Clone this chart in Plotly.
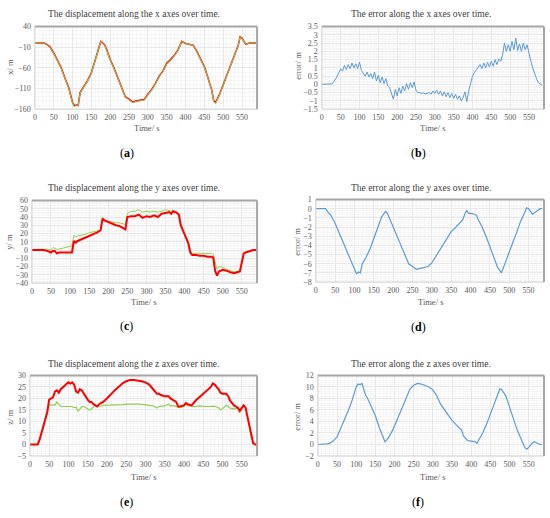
import plotly.graph_objects as go

# ---- data ----
# (a) displacement along x
t_a = [0, 10, 20, 25, 30, 40, 50, 60, 70, 80, 90, 100, 105, 110, 115, 120, 130, 140, 150, 160,
       170, 175, 180, 185, 190, 200, 210, 220, 230, 240, 250, 260, 270, 280, 290, 300, 310, 320,
       330, 340, 350, 360, 370, 380, 390, 400, 410, 420, 430, 440, 450, 460, 470, 475, 480, 490,
       500, 510, 520, 530, 540, 545, 550, 560, 570, 580, 590]
x_green = [0, 0, 0, 0, -2, -10, -25, -45, -61, -86, -110, -146, -154, -151, -152, -121, -108, -92,
           -73, -42, -17, 4, 0, -5, -15, -41, -61, -86, -111, -131, -137, -144, -141, -140, -138,
           -125, -114, -99, -81, -69, -50, -41, -31, -18, 4, -1, -3, -5, -21, -41, -58, -86, -116,
           -141, -146, -126, -101, -76, -51, -31, -6, 15, 12, -3, 0, 1, 0]
x_red = [0, 0, 0, 0, -2, -9, -24, -44, -60, -85, -108, -144, -152, -150, -151, -120, -107, -91,
         -72, -41, -16, 4, 0, -4, -14, -40, -60, -85, -110, -130, -136, -143, -140, -139, -137,
         -124, -113, -98, -80, -68, -49, -40, -30, -17, 4, -1, -3, -5, -20, -40, -57, -85, -115,
         -140, -144, -125, -100, -75, -50, -30, -5, 15, 12, -3, 0, 1, 0]

# (b) error along x
t_b = list(range(0, 590, 5))
err_x = [0, 0, 0, 0, 0.02, 0.03, 0.1, 0.25, 0.45, 0.7, 0.95, 0.8, 1.15, 0.9, 1.2, 0.95, 1.3, 1.0,
         1.25, 0.95, 1.35, 0.85, 0.7, 0.5, 0.75, 0.45, 0.65, 0.35, 0.75, 0.2, 0.55, 0.1, 0.45,
         0.05, 0.35, -0.1, -0.2, -0.55, -0.9, -0.3, -0.7, -0.2, -0.55, -0.1, -0.4, 0.05, -0.3,
         0.1, -0.2, 0.15, -0.35, -0.5, -0.5, -0.55, -0.52, -0.58, -0.55, -0.5, -0.6, -0.4, -0.55,
         -0.35, -0.6, -0.4, -0.7, -0.45, -0.75, -0.5, -0.8, -0.55, -0.85, -0.6, -0.9, -0.7, -1.0,
         -0.8, -0.45, -1.05, -0.4, 0.1, 0.5, 0.7, 0.85, 1.0, 1.2, 0.95, 1.3, 1.0, 1.35, 1.05, 1.4,
         1.1, 1.5, 1.2, 1.55, 1.4, 1.8, 2.5, 2.0, 2.4, 2.0, 2.6, 2.1, 2.8, 2.05, 2.45, 2.0, 2.5,
         2.1, 2.4, 1.8, 1.4, 1.0, 0.6, 0.35, 0.1, 0.0, -0.05]

# (c) displacement along y
t_c = [0, 10, 20, 30, 40, 50, 55, 60, 65, 70, 80, 90, 100, 105, 110, 115, 120, 130, 140, 150, 160,
       170, 180, 185, 190, 200, 210, 220, 230, 240, 245, 250, 260, 270, 280, 290, 300, 310, 320,
       330, 340, 350, 360, 365, 370, 380, 385, 390, 400, 410, 415, 420, 430, 440, 450, 460, 470,
       475, 480, 485, 490, 500, 510, 520, 530, 540, 545, 550, 555, 560, 570, 580, 590]
y_green = [0.5, 0.5, 0.5, 1, 1, 0, 3, 2, 1, 1, 2, 3, 4, 5, 18, 16, 17, 18, 19, 21, 22, 23, 24, 40,
           37, 35, 34, 33, 33, 32, 31, 44, 47, 47, 49, 46, 47, 46, 47, 46, 47, 49, 48, 47, 48, 45,
           43, 32, 20, 10, 0, -4, -4, -4, -4, -4, -4, -5, -15, -23, -20, -21, -23, -25, -26, -26,
           -25, -15, -5, -2, -1, 0, 0]
y_red = [0, 0, 0, 0, -1, -3, -1, -1, -4, -3, -3, -3, -3, -3, 11, 9, 11, 13, 15, 17, 19, 21, 24, 38,
         36, 34, 32, 30, 29, 26, 25, 40, 41, 41, 43, 39, 41, 40, 42, 40, 44, 45, 46, 44, 47, 45,
         43, 30, 18, 8, -3, -6, -6, -7, -7, -8, -8, -9, -25, -31, -26, -24, -25, -27, -28, -27,
         -26, -15, -4, -3, -1, 0, 0]

# (d) error along y
t_d = [0, 10, 20, 25, 30, 40, 50, 60, 70, 80, 90, 100, 105, 110, 115, 120, 130, 140, 150, 160, 170,
       180, 185, 190, 200, 210, 220, 230, 240, 250, 260, 270, 280, 290, 300, 310, 320, 330, 340,
       350, 360, 370, 380, 385, 390, 395, 400, 410, 415, 420, 430, 440, 450, 460, 470, 480, 490,
       500, 510, 520, 530, 540, 545, 550, 555, 560, 570, 580, 585]
err_y = [0, 0, 0, 0, -0.3, -0.8, -1.6, -2.6, -3.5, -4.5, -5.6, -6.7, -7.1, -6.9, -7.0, -6.0, -5.3,
         -4.4, -3.3, -2.0, -0.9, -0.3, -0.5, -1.0, -2.0, -3.0, -4.0, -5.0, -6.0, -6.3, -6.6, -6.5,
         -6.4, -6.3, -5.9, -5.2, -4.6, -3.8, -3.2, -2.5, -2.1, -1.7, -1.2, -0.6, -0.2, -0.5, -0.5,
         -0.6, -0.7, -1.2, -2.0, -3.0, -4.1, -5.2, -6.4, -7.0, -5.8, -4.6, -3.6, -2.5, -1.3, -0.4,
         0.1, 0.0, -0.3, -0.6, -0.3, 0.0, 0.0]

# (e) displacement along z
t_e = [0, 10, 20, 25, 30, 40, 45, 50, 55, 60, 65, 70, 75, 80, 90, 100, 105, 110, 115, 120, 125,
       130, 135, 140, 150, 155, 160, 165, 170, 175, 180, 190, 200, 210, 220, 230, 240, 250, 260,
       270, 280, 290, 300, 310, 320, 330, 335, 340, 350, 360, 365, 370, 380, 385, 390, 400, 405,
       410, 420, 430, 440, 450, 460, 470, 475, 480, 490, 495, 500, 510, 515, 520, 530, 540, 545,
       550, 555, 560, 565, 570, 575, 580, 585, 590]
z_green = [0, 0, 0, 2, 5, 10, 14, 17.5, 17.0, 17.2, 17, 18.5, 17.5, 16.5, 16.5, 16.5, 16.3, 16.5,
           16.0, 16.2, 14.5, 15.5, 16.5, 16.5, 15.5, 15.0, 15.5, 16.5, 17, 16.5, 16.5, 17, 17,
           17.2, 17.2, 17.3, 17.3, 17.5, 17.6, 17.5, 17.5, 17.4, 17.3, 17.0, 16.8, 15.8, 16.5,
           16.6, 16.8, 17.5, 16.8, 17.0, 16.5, 16.0, 16.0, 16.5, 17.5, 17.0, 16.5, 16.5, 16.8,
           16.6, 16.5, 16.5, 16.7, 16.6, 16.0, 15.0, 15.5, 17.0, 16.5, 15.8, 15.5, 15.8, 15.5,
           16.2, 16.8, 16.5, 12, 7, 3, 0.5, 0, 0]
z_red = [0, 0, 0, 2, 5, 10, 14, 19.5, 20, 20.5, 23, 23.5, 22.5, 24, 25.5, 27, 26.5, 27, 26, 23,
         22.5, 24, 23.5, 22, 19.5, 18.5, 18.5, 17.5, 17, 16.5, 17.5, 18.5, 20, 22, 23.5, 25, 26.5,
         27.5, 28, 28, 27.8, 27.5, 27, 26, 24, 22, 22, 21.5, 21, 21, 20, 19.5, 18.5, 16.5, 16.5,
         17, 18, 17.5, 17, 19, 20.5, 22, 23.5, 25, 26.5, 26, 24, 22.5, 22, 22, 21, 19, 17, 16,
         14.5, 16, 17, 16, 12, 7, 3, 0.5, 0, 0]

# (f) error along z
t_f = [0, 10, 20, 25, 30, 40, 50, 60, 70, 80, 90, 100, 105, 110, 115, 120, 125, 130, 140, 150, 160,
       170, 175, 180, 190, 200, 210, 220, 230, 240, 250, 260, 270, 280, 290, 300, 310, 320, 330,
       340, 350, 360, 370, 375, 380, 390, 400, 410, 415, 420, 430, 440, 450, 460, 470, 475, 480,
       490, 500, 510, 520, 530, 540, 545, 550, 560, 565, 570, 580, 585]
err_z = [0, 0, 0, 0.1, 0.2, 0.6, 1.3, 2.8, 4.2, 6.0, 7.8, 10.0, 10.5, 10.4, 10.6, 9.5, 8.5, 8.0,
         6.5, 5.0, 3.0, 1.2, 0.5, 0.8, 1.8, 3.2, 4.8, 6.5, 8.2, 9.6, 10.3, 10.6, 10.5, 10.3, 10.0,
         9.5, 8.5, 7.0, 6.0, 5.0, 4.2, 3.5, 2.8, 2.5, 1.5, 0.7, 0.6, 0.5, 0.2, 0.8, 2.0, 3.5, 5.3,
         7.2, 9.0, 9.7, 9.5, 8.5, 6.5, 4.6, 2.5, 1.0, -0.5, -0.8, -0.5, 0.3, 0.5, 0.3, 0.0, 0.0]

titles = ["The displacement along the x axes over time.", "The error along the x axes over time.",
          "The displacement along the y axes over time.", "The error along the y axes over time.",
          "The displacement along the z axes over time.", "The error along the z axes over time."]
ylabels = ["x/ m", "error/ m", "y/ m", "error/ m", "z/ m", "error/ m"]
letters = ["a", "b", "c", "d", "e", "f"]

W, H = 550, 518
FONT = "Liberation Serif, Times New Roman, DejaVu Serif, serif"
GREEN = "#92d050"
RED = "#ff0000"
BLUE = "#5b9bd5"


def px(x):
    return x / W


def py(y):
    return 1 - y / H


# plot boxes in pixels: left, right, top, bottom
boxes = [(33, 256, 23, 107), (321, 544, 23, 107),
         (30, 256, 200, 284), (315, 544, 199, 283),
         (28, 256, 378, 460), (317, 544, 378, 460)]
yaxes = [(-160, 40, 50), (-1.5, 3.5, 0.5), (-40, 60, 10), (-8, 1, 1), (-5, 30, 5), (-2, 12, 2)]
title_pos = [(132, 10), (421, 10), (132, 187), (421, 187), (132, 366), (421, 366)]
ylab_pos = [(8, 64), (297, 63), (7, 242), (296, 242), (8, 420), (296, 420)]
xlab_pos = [(145, 126), (432, 126), (142, 303), (430, 303), (142, 481), (432, 481)]
letter_pos = [(125, 152), (418, 152), (125, 328), (418, 329), (125, 507), (418, 507)]

fig = go.Figure()

series = [
    [(t_a, x_red, RED, 1.6), (t_a, x_green, GREEN, 1.0)],
    [(t_b, err_x, BLUE, 1.0)],
    [(t_c, y_green, GREEN, 1.0), (t_c, y_red, RED, 2.0)],
    [(t_d, err_y, BLUE, 1.2)],
    [(t_e, z_green, GREEN, 1.2), (t_e, z_red, RED, 2.0)],
    [(t_f, err_z, BLUE, 1.2)],
]

for i, group in enumerate(series):
    n = "" if i == 0 else str(i + 1)
    for t, v, c, w in group:
        fig.add_trace(go.Scatter(x=t, y=v, mode="lines", line=dict(color=c, width=w),
                                 xaxis="x" + n, yaxis="y" + n, showlegend=False,
                                 hoverinfo="skip"))


def note(x, y, text, size, color, angle=0):
    return dict(x=px(x), y=py(y), xref="paper", yref="paper", text=text, textangle=angle,
                xanchor="center", yanchor="middle", showarrow=False,
                font=dict(family=FONT, size=size, color=color))


def edge(x0, y0, x1, y1, color, width):
    return dict(type="line", xref="paper", yref="paper", x0=px(x0), y0=py(y0),
                x1=px(x1), y1=py(y1), line=dict(color=color, width=width), layer="above")


annotations = []
shapes = []
for i in range(6):
    n = "" if i == 0 else str(i + 1)
    l, r, top, bot = boxes[i]
    y0, y1, dy = yaxes[i]
    fig.layout["xaxis" + n] = dict(
        domain=[px(l), px(r)], anchor="y" + n, range=[0, 590], dtick=50, tick0=0,
        showgrid=True, gridcolor="#e8e8e8", gridwidth=1, zeroline=False,
        minor=dict(dtick=10, showgrid=True, gridcolor="#f6f6f6", gridwidth=1),
        showline=False, ticks="", ticklabelstandoff=2,
        tickfont=dict(family=FONT, size=8, color="#595959"), fixedrange=True)
    fig.layout["yaxis" + n] = dict(
        domain=[py(bot), py(top)], anchor="x" + n, range=[y0, y1], dtick=dy, tick0=y0,
        showgrid=True, gridcolor="#e8e8e8", gridwidth=1, zeroline=False,
        minor=dict(dtick=dy / 5, showgrid=True, gridcolor="#f6f6f6", gridwidth=1),
        showline=False, ticks="", ticklabelstandoff=3,
        tickfont=dict(family=FONT, size=8, color="#595959"), fixedrange=True)

    # plot-area frame: darker on top and right, light on left and bottom
    shapes.append(edge(l, bot, r, bot, "#cccccc", 1))
    shapes.append(edge(l, top, l, bot, "#cccccc", 1))
    shapes.append(edge(l, top, r, top, "#a6a6a6", 2))
    shapes.append(edge(r, top, r, bot, "#a6a6a6", 2))

    annotations.append(note(*title_pos[i], titles[i], 9.5, "#404040"))
    annotations.append(note(*ylab_pos[i], ylabels[i], 8.5, "#595959", -90))
    annotations.append(note(*xlab_pos[i], "Time/ s", 8.5, "#595959"))
    annotations.append(note(*letter_pos[i], "(<b>" + letters[i] + "</b>)", 12, "#000000"))

fig.update_layout(width=W, height=H, margin=dict(l=0, r=0, t=0, b=0),
                  paper_bgcolor="white", plot_bgcolor="white",
                  annotations=annotations, shapes=shapes, showlegend=False)

fig.write_html("out.html", config={"displayModeBar": False},
               post_script="document.body.style.margin='0px';")
